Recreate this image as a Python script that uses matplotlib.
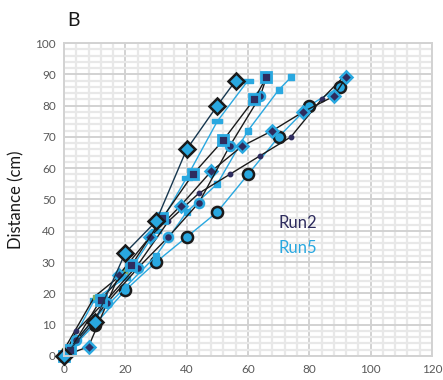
import numpy as np
import matplotlib.pyplot as plt
from matplotlib.ticker import MultipleLocator

# colours
blue = '#29A8E0'
navy = '#2E2C5E'
black = '#1a1a1a'

# Run2 style series (black lines)
sq_x = [0, 2, 12, 22, 32, 42, 52, 62, 66]
sq_y = [0, 2, 18, 29, 44, 58, 69, 82, 89]

dot_x = [0, 4, 14, 24, 34, 44, 54, 64, 74, 84, 91]
dot_y = [0, 8, 18, 29, 43, 52, 58, 64, 70, 82, 89]

mdia_x = [0, 8, 18, 28, 38, 48, 58, 68, 78, 88, 92]
mdia_y = [0, 3, 26, 38, 48, 59, 67, 72, 78, 83, 89]

mcir_x = [0, 4, 14, 24, 34, 44, 54, 64, 66]
mcir_y = [0, 5, 17, 28, 38, 49, 67, 83, 89]

grn_x = [0, 10, 20]
grn_y = [2, 19, 27]

# Run5 style series (blue lines)
dia_x = [0, 10, 20, 30, 40, 50, 56]
dia_y = [0, 11, 33, 43, 66, 80, 88]

dash_x = [0, 10, 20, 30, 40, 50, 60]
dash_y = [0, 18, 25, 40, 57, 75, 88]

ssq_x = [0, 10, 20, 30, 40, 50, 60, 70, 74]
ssq_y = [0, 12, 22, 32, 46, 55, 72, 85, 89]

cir_x = [0, 10, 20, 30, 40, 50, 60, 70, 80, 90]
cir_y = [0, 10, 21, 30, 38, 46, 58, 70, 80, 86]

plt.rcParams['font.family'] = ['Lato', 'DejaVu Sans']

fig = plt.figure(figsize=(4.43, 3.80), dpi=100)
ax = fig.add_axes([0.1445, 0.0632, 0.8305, 0.8236])

# grid
ax.xaxis.set_major_locator(MultipleLocator(20))
ax.yaxis.set_major_locator(MultipleLocator(10))
ax.xaxis.set_minor_locator(MultipleLocator(4))
ax.yaxis.set_minor_locator(MultipleLocator(2))
ax.grid(which='minor', color='#e8e8e8', linewidth=1.6)
ax.grid(which='major', color='#d2d2d2', linewidth=1.4)
ax.set_axisbelow(True)
for s in ax.spines.values():
    s.set_color('#d2d2d2')
    s.set_linewidth(1.4)
ax.tick_params(which='both', length=0, colors='#595959', labelsize=8.5, pad=6)

ax.set_xlim(0, 120)
ax.set_ylim(0, 100)

dash_mark = [(-1, -0.4), (1, -0.4), (1, 0.4), (-1, 0.4), (-1, -0.4)]

kw = dict(clip_on=False, linewidth=1.0)
ax.plot(cir_x, cir_y, color=blue, marker='o', ms=8, mfc=blue, mec=black, mew=1.8, **kw)
ax.plot(ssq_x, ssq_y, color=blue, marker='s', ms=4.2, mfc=blue, mec=blue, **kw)
ax.plot(dash_x, dash_y, color=blue, marker=dash_mark, ms=7, mfc=blue, mec=blue, **kw)
ax.plot(grn_x, grn_y, color=black, marker='s', ms=3.5, mfc='#7fb06a', mec='#7fb06a', **kw)
ax.plot(dot_x, dot_y, color=black, marker='o', ms=3.2, mfc=navy, mec=navy, **kw)
ax.plot(mdia_x, mdia_y, color=black, marker='D', ms=6, mfc=navy, mec=blue, mew=1.8, **kw)
ax.plot(mcir_x, mcir_y, color=black, marker='o', ms=6.5, mfc=navy, mec=blue, mew=1.8, **kw)
ax.plot(sq_x, sq_y, color=black, marker='s', ms=7, mfc=navy, mec=blue, mew=2, **kw)
ax.plot(dia_x, dia_y, color='#17374f', marker='D', ms=8.5, mfc=blue, mec=black, mew=1.8, **kw)

ax.text(70, 42.5, 'Run2', color=navy, fontsize=12, ha='left', va='center')
ax.text(70, 34.5, 'Run5', color=blue, fontsize=12, ha='left', va='center')

ax.set_ylabel('Distance (cm)', fontsize=12, color=black, labelpad=8)
fig.text(0.152, 0.945, 'B', fontsize=14, color=black, ha='left', va='center')

fig.savefig('out.png', dpi=100)
